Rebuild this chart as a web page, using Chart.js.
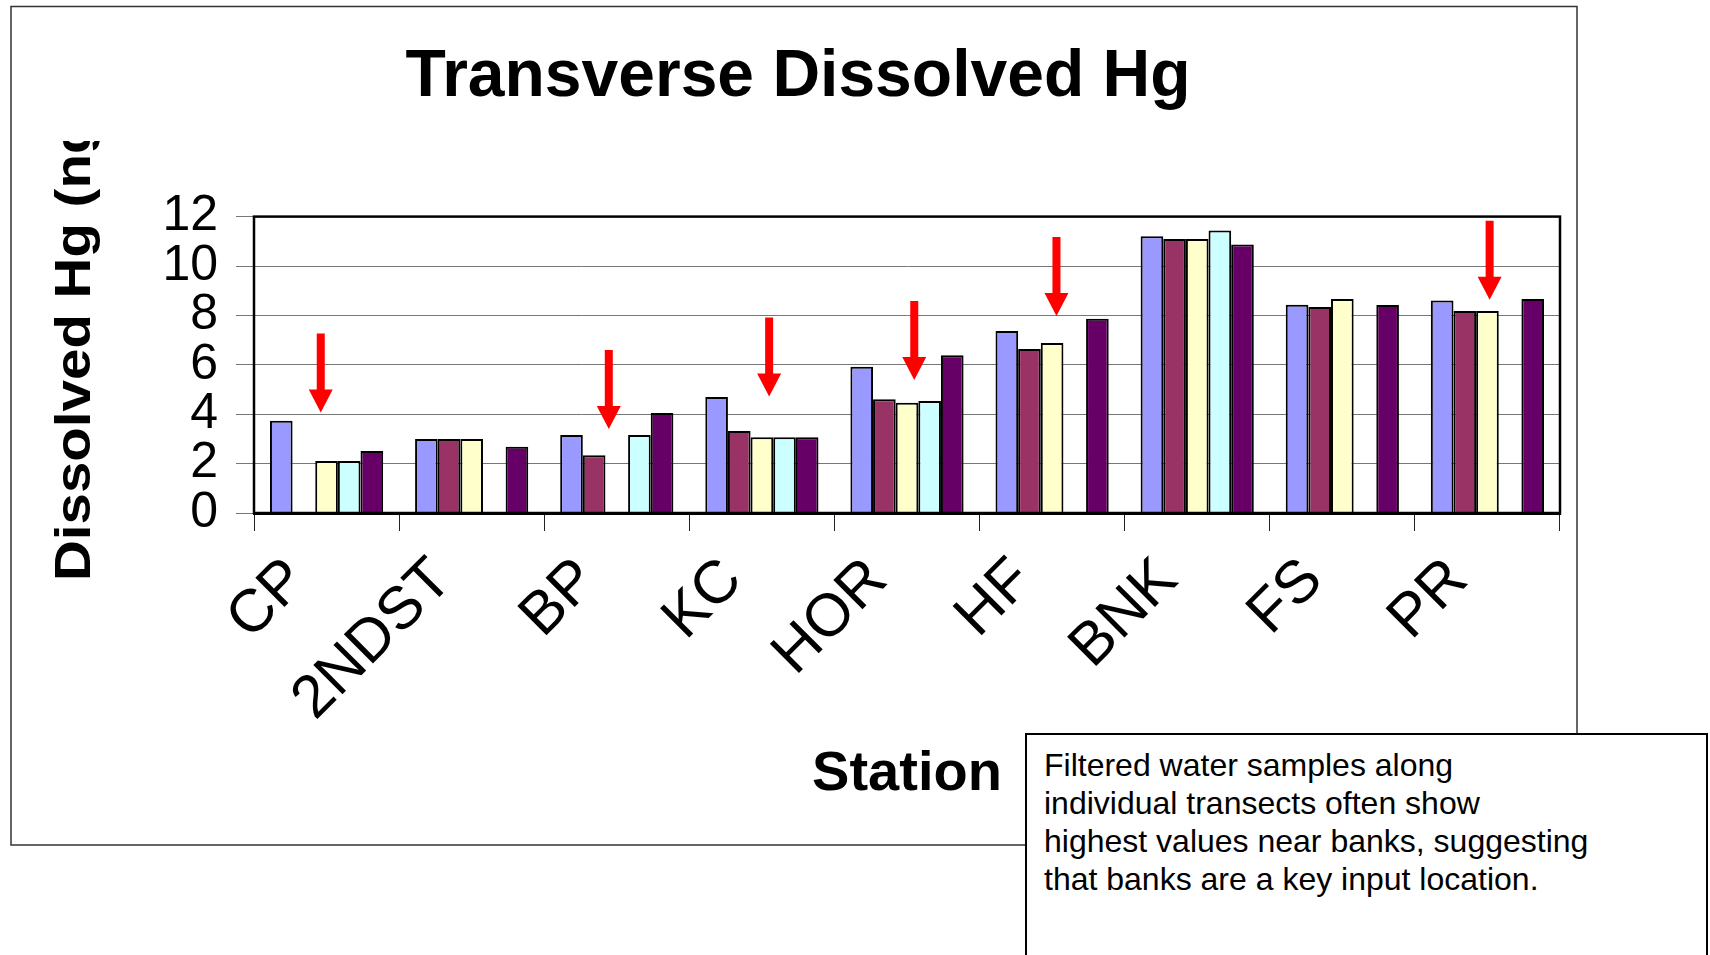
<!DOCTYPE html>
<html>
<head>
<meta charset="utf-8">
<title>Transverse Dissolved Hg</title>
<script src="https://cdn.jsdelivr.net/npm/chart.js@4.4.1/dist/chart.umd.min.js"></script>
<style>
  html, body { margin: 0; padding: 0; background: #fff; }
  #wrap { position: relative; width: 1710px; height: 955px; overflow: hidden; }
  #c { position: absolute; left: 0; top: 0; }
  #note {
    position: absolute; left: 1025px; top: 733px; width: 683px; height: 260px;
    box-sizing: border-box; border: 2px solid #000; background: #fff;
    padding: 11px 0 0 17px; color: #000;
    font: 32px 'Liberation Sans', Arial, sans-serif; line-height: 38px;
  }
</style>
</head>
<body>
<div id="wrap">
  <canvas id="c" width="1710" height="955"></canvas>
  <div id="note">Filtered water samples along<br>individual transects often show<br>highest values near banks, suggesting<br>that banks are a key input location.</div>
</div>
<script>
// Stations along the river and dissolved Hg (ng/L) at five points across each transect
const stations = ['CP', '2NDST', 'BP', 'KC', 'HOR', 'HF', 'BNK', 'FS', 'PR'];
const point1 = [3.73, 3.00, 3.16, 4.70, 5.92, 7.37, 11.20, 8.43, 8.60];
const point2 = [null, 3.00, 2.34, 3.32, 4.61, 6.64, 11.09, 8.34, 8.18];
const point3 = [2.11, 3.00, null, 3.07, 4.46, 6.88, 11.09, 8.66, 8.18];
const point4 = [2.11, null, 3.16, 3.07, 4.53, null, 11.44, null, null];
const point5 = [2.51, 2.68, 4.05, 3.07, 6.39, 7.86, 10.87, 8.42, 8.66];
const yTicks = [0, 2, 4, 6, 8, 10, 12];

// Red call-out arrows: station, value at the arrow tip, sideways shift (fraction of a category)
const arrowStations = ['CP', 'BP', 'KC', 'HOR', 'HF', 'PR'];
const arrowTips = [4.07, 3.40, 4.72, 5.38, 7.98, 8.63];
const arrowShift = [-0.04, -0.055, 0.05, 0.05, 0.03, 0.015];

const FONT = "'Liberation Sans', Arial, sans-serif";
const fills = ['#9999FF', '#993366', '#FFFFCC', '#CCFFFF', '#660066'];
const series = [point1, point2, point3, point4, point5];

const pageFrame = {
  id: 'pageFrame',
  beforeDraw(chart) {
    const ctx = chart.ctx;
    ctx.save();
    ctx.fillStyle = '#fff';
    ctx.fillRect(0, 0, chart.width, chart.height);
    ctx.strokeStyle = '#333';
    ctx.lineWidth = 1.5;
    ctx.strokeRect(11, 6.5, 1566, 838.5);
    ctx.restore();
  }
};

const plotExtras = {
  id: 'plotExtras',
  afterDatasetsDraw(chart) {
    const ctx = chart.ctx;
    const a = chart.chartArea;
    const xs = chart.scales.x, ys = chart.scales.y;
    ctx.save();
    // plot area frame
    ctx.strokeStyle = '#000';
    ctx.lineWidth = 2.5;
    ctx.strokeRect(a.left, a.top, a.right - a.left, a.bottom - a.top);
    // arrows
    const cat = (a.right - a.left) / stations.length;
    ctx.fillStyle = '#FF0000';
    arrowStations.forEach((s, i) => {
      const x = xs.getPixelForValue(stations.indexOf(s)) + arrowShift[i] * cat;
      const tip = ys.getPixelForValue(arrowTips[i]);
      const top = tip - 79, headTop = tip - 23;
      ctx.beginPath();
      ctx.moveTo(x - 4, top);
      ctx.lineTo(x + 4, top);
      ctx.lineTo(x + 4, headTop);
      ctx.lineTo(x + 12, headTop);
      ctx.lineTo(x, tip);
      ctx.lineTo(x - 12, headTop);
      ctx.lineTo(x - 4, headTop);
      ctx.closePath();
      ctx.fill();
    });
    ctx.restore();
  },
  afterDraw(chart) {
    // value axis title, cut off by the top of the plot block
    const ctx = chart.ctx;
    ctx.save();
    ctx.beginPath();
    ctx.rect(0, 141, chart.width, chart.height - 141);
    ctx.clip();
    ctx.translate(90, 581);
    ctx.rotate(-Math.PI / 2);
    ctx.scale(1.13, 1);
    ctx.fillStyle = '#000';
    ctx.font = 'bold 50px ' + FONT;
    ctx.textAlign = 'left';
    ctx.textBaseline = 'alphabetic';
    ctx.fillText('Dissolved Hg (ng/L)', 0, 0);
    ctx.restore();
  }
};

new Chart(document.getElementById('c'), {
  type: 'bar',
  data: {
    labels: stations,
    datasets: series.map((d, i) => ({
      label: 'Point ' + (i + 1),
      data: d,
      backgroundColor: fills[i],
      borderColor: '#000',
      borderWidth: 2,
      categoryPercentage: 0.78,
      barPercentage: 1.0
    }))
  },
  options: {
    responsive: false,
    animation: false,
    events: [],
    layout: { padding: { left: 36, right: 150, top: 0, bottom: 0 } },
    plugins: {
      legend: { display: false },
      tooltip: { enabled: false },
      title: {
        display: true,
        text: 'Transverse Dissolved Hg',
        color: '#000',
        font: { family: FONT, size: 66, weight: 'bold' },
        padding: { top: 38.4, bottom: 99 }
      }
    },
    scales: {
      x: {
        offset: true,
        afterFit(scale) { scale.height = 442; },
        border: { display: true, color: '#000', width: 3 },
        grid: { offset: true, drawOnChartArea: false, drawTicks: true, tickLength: 18, color: '#222', lineWidth: 1 },
        ticks: {
          autoSkip: false, minRotation: 45, maxRotation: 45,
          padding: 14, labelOffset: -29, color: '#000',
          font: { family: FONT, size: 60 }
        },
        title: {
          display: true, text: 'Station', color: '#000',
          font: { family: FONT, size: 56, weight: 'bold' },
          padding: { top: 0, bottom: 147 }
        }
      },
      y: {
        min: 0, max: 12,
        afterFit(scale) { scale.width = 218; },
        afterBuildTicks(scale) { scale.ticks = yTicks.map(v => ({ value: v })); },
        border: { display: true, color: '#000', width: 2 },
        grid: { color: '#777', lineWidth: 1, tickLength: 18, drawTicks: true },
        ticks: { autoSkip: false, padding: 18, color: '#000', font: { family: FONT, size: 50 } }
      }
    }
  },
  plugins: [pageFrame, plotExtras]
});
</script>
</body>
</html>
